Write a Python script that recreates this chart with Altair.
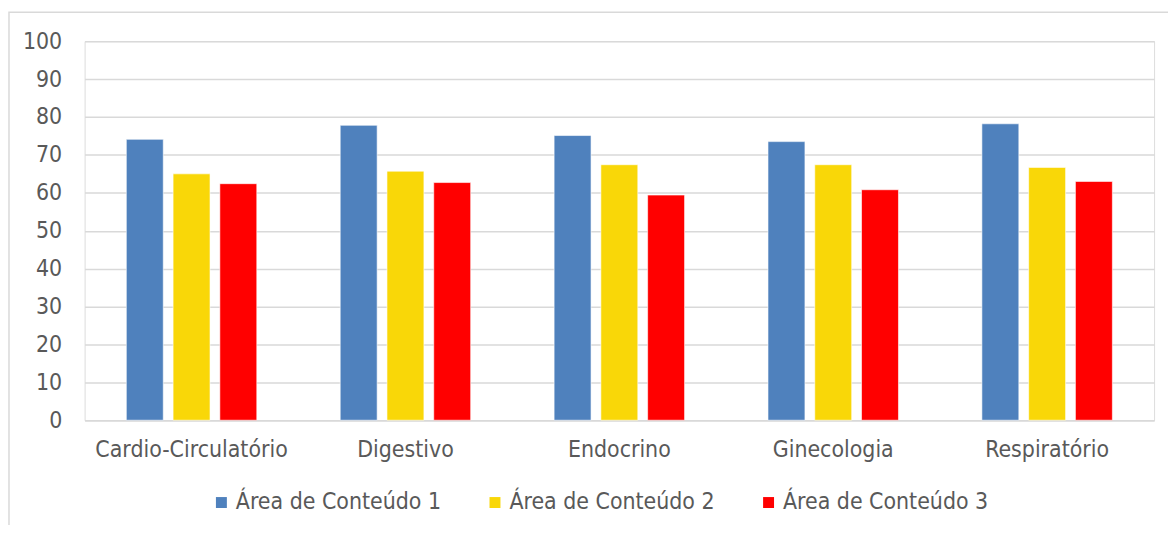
import altair as alt
import pandas as pd

categories = ["Cardio-Circulatório", "Digestivo", "Endocrino", "Ginecologia", "Respiratório"]
series = ["Área de Conteúdo 1", "Área de Conteúdo 2", "Área de Conteúdo 3"]
area1 = [74.1, 77.8, 75.1, 73.5, 78.2]
area2 = [65.0, 65.7, 67.4, 67.4, 66.7]
area3 = [62.4, 62.7, 59.4, 60.8, 63.0]
colors = ["#4f81bd", "#f9d708", "#ff0000"]

rows = []
for s, vals in zip(series, [area1, area2, area3]):
    for c, v in zip(categories, vals):
        rows.append({"categoria": c, "serie": s, "valor": v})
df = pd.DataFrame(rows)

FONT = "DejaVu Sans Condensed, DejaVu Sans, sans-serif"
FS = 23

bars = alt.Chart(df).mark_bar(stroke="white", strokeWidth=0.6).encode(
    x=alt.X("categoria:N", sort=categories, title=None,
            scale=alt.Scale(paddingInner=0.39, paddingOuter=0.195),
            axis=alt.Axis(labelAngle=0, labelFontSize=FS, labelColor="#595959",
                          labelFont=FONT, ticks=False, domainColor="#d9d9d9",
                          domainWidth=1.5, labelPadding=18, labelLimit=0)),
    xOffset=alt.XOffset("serie:N", sort=series,
                        scale=alt.Scale(paddingInner=0.21, paddingOuter=0)),
    y=alt.Y("valor:Q", title=None,
            scale=alt.Scale(domain=[0, 100], nice=False),
            axis=alt.Axis(values=list(range(0, 101, 10)), labelFontSize=FS,
                          labelColor="#595959", labelFont=FONT, ticks=False,
                          domain=False, gridColor="#d9d9d9", gridWidth=1.5,
                          labelPadding=23)),
    color=alt.Color("serie:N", sort=series,
                    scale=alt.Scale(domain=series, range=colors),
                    legend=alt.Legend(title=None, orient="none", direction="horizontal",
                                      legendX=126, legendY=452,
                                      symbolType="square", symbolSize=121,
                                      symbolStrokeWidth=0, labelFontSize=FS,
                                      labelFont=FONT, labelColor="#595959",
                                      labelLimit=0,
                                      columnPadding=42, symbolOffset=0, labelOffset=3)),
)

border = alt.Chart(pd.DataFrame({"a": [0]})).mark_rect(
    fill=None, stroke="#d9d9d9", strokeWidth=1.5, clip=False
).encode(x=alt.value(-76), x2=alt.value(1120), y=alt.value(-29), y2=alt.value(560))

chart = alt.layer(border, bars).properties(
    width=1075, height=381,
    padding={"left": 77, "top": 32, "right": 14, "bottom": 104},
    autosize=alt.AutoSizeParams(type="none"),
).configure_view(stroke=None).configure(background="white")

chart.save("out.html", embed_options={"renderer": "svg", "actions": False})
